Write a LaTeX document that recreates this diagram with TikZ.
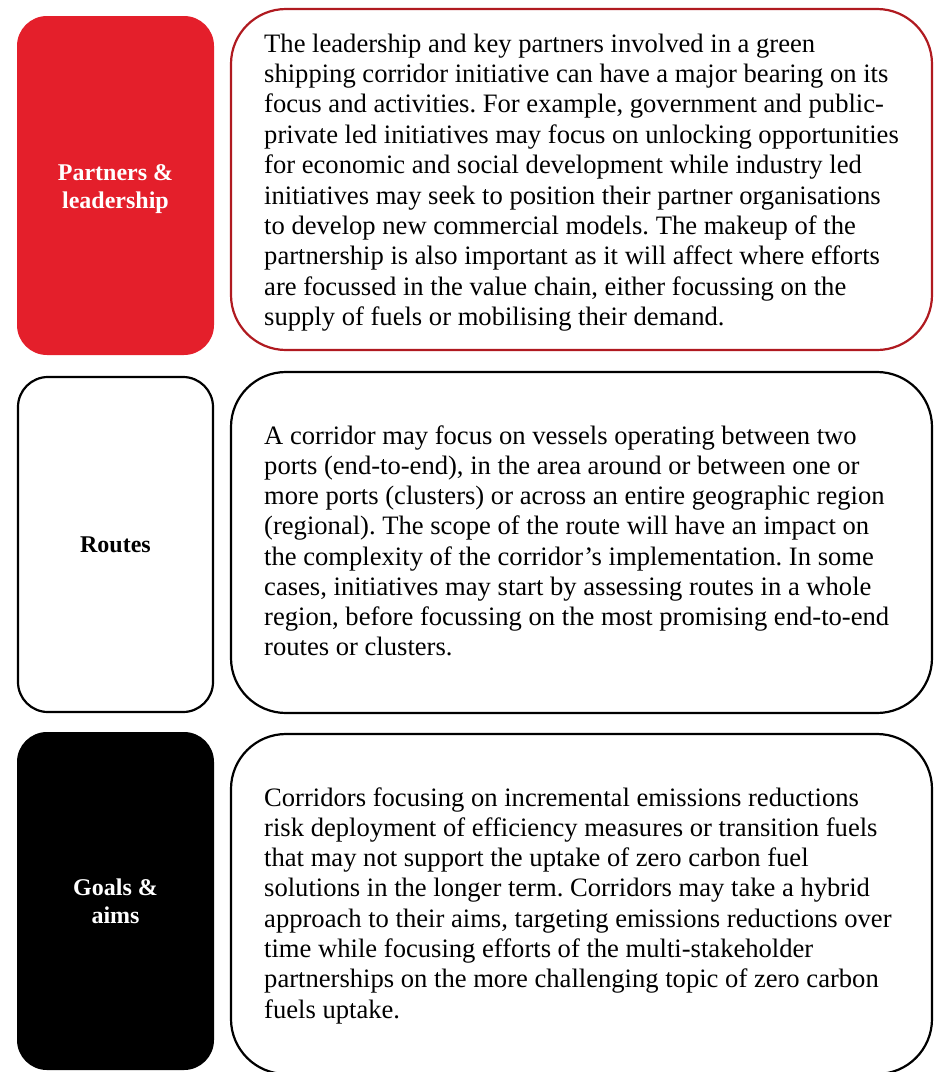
\documentclass[tikz,border=0pt]{standalone}
\usepackage{fontspec}
\setmainfont{Liberation Serif}
\frenchspacing
\definecolor{boxred}{HTML}{E41F2B}
\definecolor{linered}{HTML}{B01A20}
\tikzset{
  labelbox/.style={rounded corners=30pt, line width=2.2pt},
  textbox/.style={rounded corners=55pt, line width=2.2pt},
  labeltext/.style={inner sep=0pt, anchor=base, font=\fontsize{24}{28}\selectfont\bfseries},
  bodytext/.style={inner sep=0pt, anchor=base west, text=black},
}
\begin{document}
\begin{tikzpicture}[x=1pt,y=-1pt]
\useasboundingbox (0,0) rectangle (934,1072);
% row 1
\node[draw=none, fill=boxred, rounded corners=30pt, minimum width=197pt, minimum height=339pt, inner sep=0pt] (lb1) at (115.5,185.5) {};
\node[draw=linered, fill=white, textbox, minimum width=701pt, minimum height=341pt, inner sep=0pt] (rb1) at (581.5,179.5) {};
\node[labeltext, text=white] (lt1) at (115.5,180) {\parbox[t]{190pt}{\centering\fontsize{24}{28}\selectfont\bfseries Partners \&\\leadership}};
\node[bodytext] (bt1) at (264,52) {\parbox[t]{668pt}{\raggedright\fontsize{26.6}{30.4}\selectfont
The leadership and key partners involved in a green\\
shipping corridor initiative can have a major bearing on its\\
focus and activities. For example, government and public-\\
private led initiatives may focus on unlocking opportunities\\
for economic and social development while industry led\\
initiatives may seek to position their partner organisations\\
to develop new commercial models. The makeup of the\\
partnership is also important as it will affect where efforts\\
are focussed in the value chain, either focussing on the\\
supply of fuels or mobilising their demand.}};
% row 2
\node[draw=black, fill=white, labelbox, minimum width=195pt, minimum height=335pt, inner sep=0pt] (lb2) at (115.5,544.5) {};
\node[draw=black, fill=white, textbox, minimum width=701pt, minimum height=341pt, inner sep=0pt] (rb2) at (581.5,542.5) {};
\node[labeltext, text=black] (lt2) at (115.5,552) {\parbox[t]{190pt}{\centering\fontsize{24}{28}\selectfont\bfseries Routes}};
\node[bodytext] (bt2) at (264,444.3) {\parbox[t]{668pt}{\raggedright\fontsize{26.6}{30.2}\selectfont
A corridor may focus on vessels operating between two\\
ports (end-to-end), in the area around or between one or\\
more ports (clusters) or across an entire geographic region\\
(regional). The scope of the route will have an impact on\\
the complexity of the corridor’s implementation. In some\\
cases, initiatives may start by assessing routes in a whole\\
region, before focussing on the most promising end-to-end\\
routes or clusters.}};
% row 3
\node[draw=none, fill=black, rounded corners=30pt, minimum width=197pt, minimum height=338pt, inner sep=0pt] (lb3) at (115.5,901) {};
\node[draw=black, fill=white, textbox, minimum width=701pt, minimum height=340pt, inner sep=0pt] (rb3) at (581.5,904) {};
\node[labeltext, text=white] (lt3) at (115.5,895) {\parbox[t]{190pt}{\centering\fontsize{24}{28}\selectfont\bfseries Goals \&\\aims}};
\node[bodytext] (bt3) at (264,806) {\parbox[t]{668pt}{\raggedright\fontsize{26.6}{30.3}\selectfont
Corridors focusing on incremental emissions reductions\\
risk deployment of efficiency measures or transition fuels\\
that may not support the uptake of zero carbon fuel\\
solutions in the longer term. Corridors may take a hybrid\\
approach to their aims, targeting emissions reductions over\\
time while focusing efforts of the multi-stakeholder\\
partnerships on the more challenging topic of zero carbon\\
fuels uptake.}};
\end{tikzpicture}
\end{document}
